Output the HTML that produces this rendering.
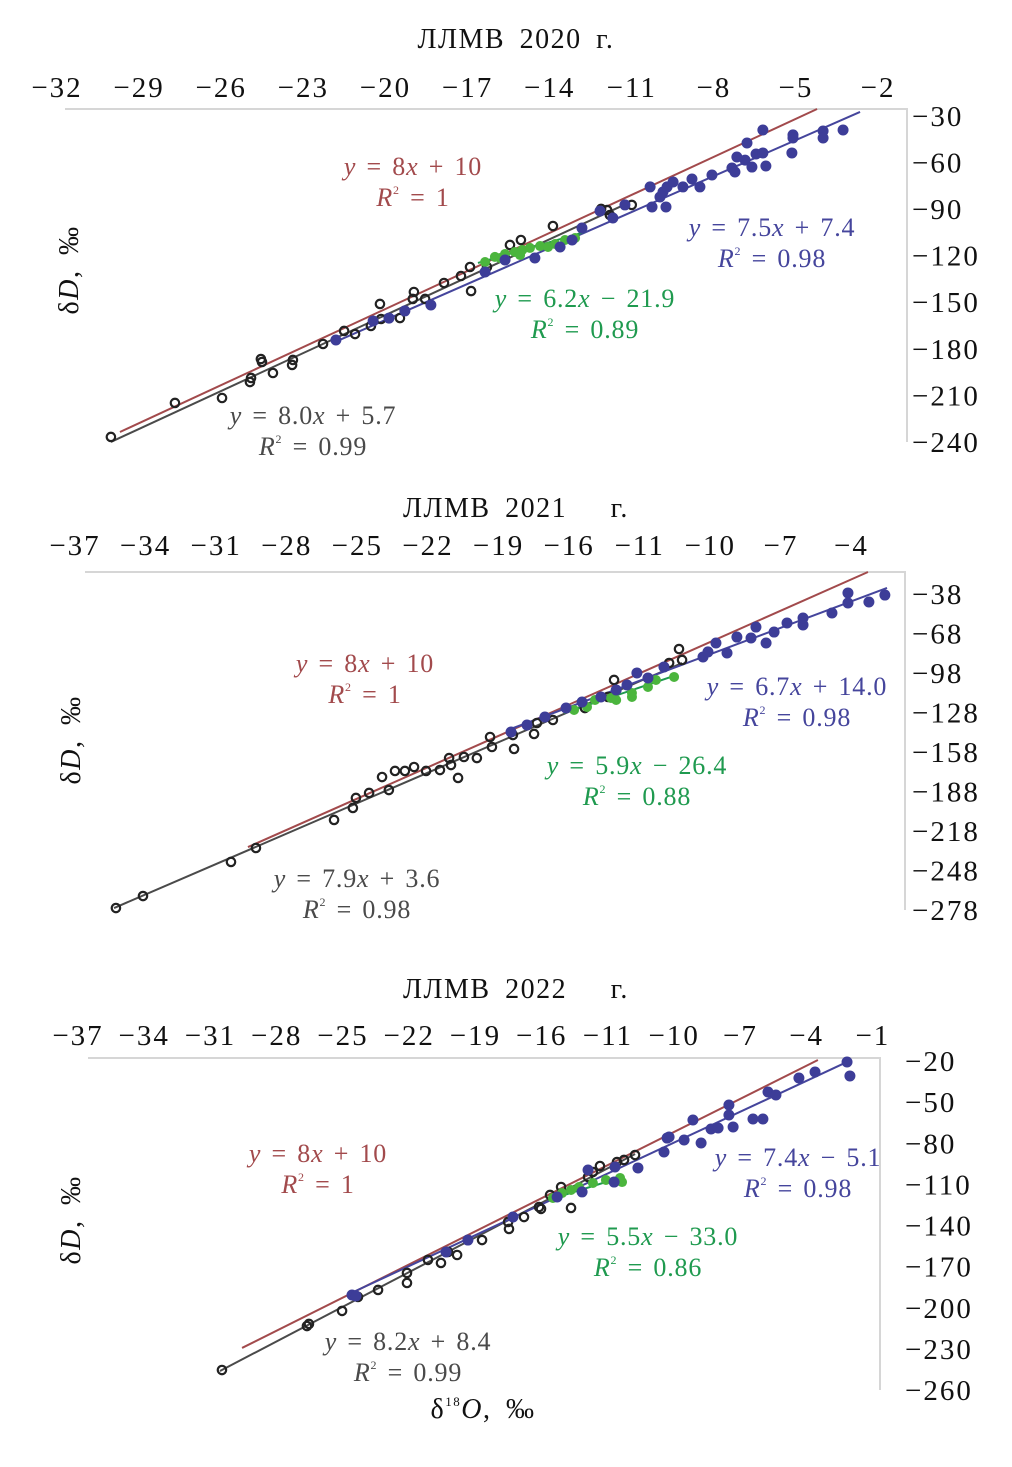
<!DOCTYPE html>
<html><head><meta charset="utf-8"><style>
html,body{margin:0;padding:0;background:#fff;}
svg{display:block;font-family:"Liberation Serif",serif;}
.tick{font-size:29px;fill:#111;letter-spacing:2px;}
.ttl{font-size:28px;fill:#111;letter-spacing:1.5px;word-spacing:6px;}
.ann{font-size:26px;letter-spacing:0.8px;word-spacing:3px;}
</style></head><body>
<svg id="chart" width="1012" height="1467" viewBox="0 0 1012 1467"></svg>
<script>
// ===== Panel 1 (2020) data =====
const p1XTicks=[-32,-29,-26,-23,-20,-17,-14,-11,-8,-5,-2];
const p1XLabels=["−32","−29","−26","−23","−20","−17","−14","−11","−8","−5","−2"];
const p1YTicks=[-30,-60,-90,-120,-150,-180,-210,-240];
const p1BlackX=[-30.03,-27.69,-25.97,-24.95,-24.91,-24.51,-24.55,-24.11,-23.41,-23.38,-22.28,-21.51,-21.11,-20.53,-20.2,-20.16,-19.47,-19.0,-18.96,-18.55,-17.86,-17.24,-16.91,-16.87,-16.29,-15.63,-15.45,-15.05,-13.88,-12.12,-11.9,-11.8,-11.0];
const p1BlackY=[-236.8,-214.9,-211.7,-201.4,-198.8,-188.5,-186.6,-195.6,-190.4,-187.2,-176.9,-168.5,-170.5,-165.3,-151.1,-160.8,-160.2,-147.9,-143.4,-147.9,-137.6,-133.1,-127.3,-142.8,-127.3,-121.5,-113.1,-109.9,-100.9,-89.9,-90.6,-93.8,-87.3];
const p1BlueX=[-21.81,-20.45,-19.87,-19.29,-18.34,-16.36,-15.63,-14.54,-13.62,-13.18,-12.82,-12.16,-11.69,-11.25,-10.33,-10.26,-9.97,-9.86,-9.75,-9.71,-9.49,-9.13,-8.8,-8.51,-8.07,-7.34,-7.23,-7.16,-6.86,-6.79,-6.61,-6.46,-6.21,-6.21,-6.1,-5.15,-5.11,-5.11,-4.01,-4.01,-3.28];
const p1BlueY=[-174.3,-162.1,-160.2,-155.6,-151.8,-130.5,-122.8,-121.5,-114.4,-109.9,-102.2,-91.2,-95.7,-87.3,-75.7,-88.6,-82.2,-79.0,-88.6,-75.7,-72.5,-75.7,-70.6,-75.7,-68.0,-63.5,-66.1,-56.4,-58.4,-47.4,-62.9,-54.5,-39.0,-53.8,-62.2,-53.8,-42.2,-44.2,-39.7,-44.2,-39.0];
const p1GreenX=[-16.36,-16.0,-15.63,-15.27,-15.0,-14.72,-14.35,-14.06,-13.8,-13.44,-13.07,-15.08,-15.81];
const p1GreenY=[-124.1,-120.8,-118.9,-117.6,-116.3,-115.0,-113.8,-114.4,-112.5,-109.9,-108.6,-119.6,-121.5];
const p1RedLine=[[-29.7,-233.6],[-4.23,-25.5]];
const p1GrayLine=[[-30.03,-240.0],[-11.14,-86.1]];
const p1BlueLine=[[-21.84,-175.6],[-2.66,-27.4]];
const p1GreenLine=[[-16.62,-124.7],[-12.71,-104.7]];

// ===== Panel 2 (2021) data =====
const p2XTicks=[-37,-34,-31,-28,-25,-22,-19,-16,-13,-10,-7,-4];
const p2XLabels=["−37","−34","−31","−28","−25","−22","−19","−16","−11","−10","−7","−4"];
const p2YTicks=[-38,-68,-98,-128,-158,-188,-218,-248,-278];
const p2BlackX=[-35.26,-34.11,-30.37,-29.31,-25.99,-25.19,-25.06,-24.5,-23.66,-23.95,-23.4,-22.98,-22.59,-22.08,-21.49,-21.02,-21.1,-20.72,-20.47,-19.92,-19.28,-19.36,-18.34,-18.39,-17.49,-17.37,-16.69,-14.09,-11.75,-11.33,-11.2,-14.35,-15.33];
const p2BlackY=[-276.5,-267.4,-241.5,-230.9,-209.6,-200.5,-192.9,-189.1,-186.9,-177.0,-172.4,-172.4,-169.4,-172.4,-171.7,-167.9,-162.6,-177.7,-161.8,-162.6,-154.2,-146.6,-155.7,-145.1,-144.3,-136.0,-133.7,-103.3,-90.4,-79.8,-88.1,-116.2,-124.6];
const p2BlueX=[-18.47,-17.79,-17.03,-16.13,-15.45,-14.65,-14.0,-13.54,-13.12,-12.65,-11.97,-10.31,-10.1,-9.76,-9.29,-8.87,-8.27,-8.06,-7.63,-7.29,-6.74,-6.06,-6.06,-4.83,-4.15,-4.15,-3.26,-2.58];
const p2BlueY=[-142.8,-137.5,-131.4,-124.6,-120.0,-116.2,-110.9,-107.1,-98.0,-101.8,-93.4,-85.8,-82.0,-75.2,-82.8,-70.7,-71.4,-63.1,-75.2,-66.9,-60.0,-61.5,-56.2,-52.4,-37.2,-44.8,-44.1,-38.8];
const p2GreenX=[-15.79,-15.24,-14.9,-14.22,-13.33,-12.65,-12.31,-11.54,-13.33,-14.0];
const p2GreenY=[-126.1,-123.8,-118.5,-117.0,-113.2,-108.6,-103.3,-101.0,-116.2,-118.5];
const p2RedLine=[[-29.65,-230.2],[-3.3,-21.3]];
const p2GrayLine=[[-35.34,-276.5],[-11.2,-90.4]];
const p2BlueLine=[[-18.6,-141.3],[-2.49,-33.4]];
const p2GreenLine=[[-16.22,-128.4],[-11.42,-99.5]];

// ===== Panel 3 (2022) data =====
const p3XTicks=[-37,-34,-31,-28,-25,-22,-19,-16,-13,-10,-7,-4,-1];
const p3XLabels=["−37","−34","−31","−28","−25","−22","−19","−16","−11","−10","−7","−4","−1"];
const p3YTicks=[-20,-50,-80,-110,-140,-170,-200,-230,-260];
const p3BlackX=[-30.48,-26.54,-26.63,-25.04,-24.32,-23.41,-22.1,-22.1,-21.15,-20.56,-20.24,-19.83,-18.7,-17.52,-17.48,-16.8,-16.12,-16.03,-15.62,-15.12,-14.67,-13.9,-13.68,-13.36,-12.59,-12.27,-11.77];
const p3BlackY=[-245.4,-211.8,-213.3,-202.3,-192.1,-187.0,-174.6,-181.9,-165.1,-167.3,-159.3,-161.5,-150.6,-137.4,-142.5,-133.8,-126.5,-127.9,-117.7,-111.9,-127.2,-104.6,-101.0,-96.6,-93.7,-92.2,-88.6];
const p3BlueX=[-24.59,-24.41,-19.34,-20.33,-17.3,-15.3,-14.17,-13.9,-12.72,-12.68,-11.64,-10.46,-10.32,-10.23,-9.55,-9.15,-8.78,-8.33,-8.01,-7.52,-7.52,-7.33,-6.43,-5.98,-5.75,-5.39,-4.35,-3.62,-2.17,-2.04];
const p3BlueY=[-190.7,-191.4,-150.6,-159.3,-133.8,-119.2,-115.5,-99.5,-108.3,-97.3,-98.0,-86.4,-76.2,-75.4,-77.6,-63.0,-79.8,-69.6,-68.9,-59.4,-52.1,-68.1,-62.3,-62.3,-42.6,-44.8,-32.4,-28.0,-20.7,-30.9];
const p3GreenX=[-15.49,-15.08,-14.67,-14.31,-13.68,-13.09,-12.45,-12.36];
const p3GreenY=[-119.9,-116.3,-114.1,-111.9,-109.0,-106.8,-105.3,-108.3];
const p3RedLine=[[-29.57,-229.3],[-3.49,-19.3]];
const p3GrayLine=[[-30.57,-246.1],[-11.77,-87.8]];
const p3BlueLine=[[-24.82,-190.7],[-2.17,-20.7]];
const p3GreenLine=[[-15.71,-121.4],[-12.36,-104.6]];

const NS="http://www.w3.org/2000/svg";
const svg=document.getElementById('chart');
function mk(tag,attrs,parent){const e=document.createElementNS(NS,tag);for(const k in attrs)e.setAttribute(k,attrs[k]);(parent||svg).appendChild(e);return e;}
function txt(x,y,html,cls,fill,anchor,parent){const t=mk('text',{x:x,y:y,'class':cls,fill:fill,'text-anchor':anchor||'middle'},parent);t.innerHTML=html;return t;}

const RED="#a24a4c",BLUE="#45459c",GREEN="#1f9a4f",GRAY="#4a4a4a";
const panels=[
 {id:'2020',title:'ЛЛМВ 2020 г.',titleY:48,xT:p1XTicks,xL:p1XLabels,yT:p1YTicks,x0:-32,px0:57,pxPerX:27.37,y0:-30,py0:116,pxPerY:1.552,tickY:97,frameTop:109,frameL:65,frameR:907,frameB:442,yLabX:912,axTitle:[78,270],
  bx:p1BlackX,by:p1BlackY,ux:p1BlueX,uy:p1BlueY,gx:p1GreenX,gy:p1GreenY,lines:[p1GrayLine,p1RedLine,p1BlueLine,p1GreenLine],
  ann:[[413,175,'<tspan font-style="italic">y</tspan> = 8<tspan font-style="italic">x</tspan> + 10','R² = 1',RED],[772,236,'<tspan font-style="italic">y</tspan> = 7.5<tspan font-style="italic">x</tspan> + 7.4','R² = 0.98',BLUE],[585,307,'<tspan font-style="italic">y</tspan> = 6.2<tspan font-style="italic">x</tspan> − 21.9','R² = 0.89',GREEN],[313,424,'<tspan font-style="italic">y</tspan> = 8.0<tspan font-style="italic">x</tspan> + 5.7','R² = 0.99',GRAY]]},
 {id:'2021',title:'ЛЛМВ 2021 &#160; г.',titleY:517,xT:p2XTicks,xL:p2XLabels,yT:p2YTicks,x0:-37,px0:75,pxPerX:23.53,y0:-38,py0:594,pxPerY:1.3167,tickY:555,frameTop:572,frameL:85,frameR:905,frameB:910,yLabX:912,axTitle:[80,740],
  bx:p2BlackX,by:p2BlackY,ux:p2BlueX,uy:p2BlueY,gx:p2GreenX,gy:p2GreenY,lines:[p2GrayLine,p2RedLine,p2BlueLine,p2GreenLine],
  ann:[[365,672,'<tspan font-style="italic">y</tspan> = 8<tspan font-style="italic">x</tspan> + 10','R² = 1',RED],[797,695,'<tspan font-style="italic">y</tspan> = 6.7<tspan font-style="italic">x</tspan> + 14.0','R² = 0.98',BLUE],[637,774,'<tspan font-style="italic">y</tspan> = 5.9<tspan font-style="italic">x</tspan> − 26.4','R² = 0.88',GREEN],[357,887,'<tspan font-style="italic">y</tspan> = 7.9<tspan font-style="italic">x</tspan> + 3.6','R² = 0.98',GRAY]]},
 {id:'2022',title:'ЛЛМВ 2022 &#160; г.',titleY:998,xT:p3XTicks,xL:p3XLabels,yT:p3YTicks,x0:-37,px0:78,pxPerX:22.08,y0:-20,py0:1061,pxPerY:1.371,tickY:1045,frameTop:1058,frameL:88,frameR:880,frameB:1390,yLabX:905,axTitle:[80,1220],yDash:true,
  bx:p3BlackX,by:p3BlackY,ux:p3BlueX,uy:p3BlueY,gx:p3GreenX,gy:p3GreenY,lines:[p3GrayLine,p3RedLine,p3BlueLine,p3GreenLine],
  ann:[[318,1162,'<tspan font-style="italic">y</tspan> = 8<tspan font-style="italic">x</tspan> + 10','R² = 1',RED],[798,1166,'<tspan font-style="italic">y</tspan> = 7.4<tspan font-style="italic">x</tspan> − 5.1','R² = 0.98',BLUE],[648,1245,'<tspan font-style="italic">y</tspan> = 5.5<tspan font-style="italic">x</tspan> − 33.0','R² = 0.86',GREEN],[408,1350,'<tspan font-style="italic">y</tspan> = 8.2<tspan font-style="italic">x</tspan> + 8.4','R² = 0.99',GRAY]]}
];
const lineColors=[GRAY,RED,BLUE,GREEN];
const lineNames=['lmwl-local-line','gmwl-line','blue-series-trendline','green-series-trendline'];

panels.forEach(p=>{
  const g=mk('g',{});
  
  
  const sx=v=>p.px0+(v-p.x0)*p.pxPerX;
  const sy=v=>p.py0+(p.y0-v)*p.pxPerY;
  const t=txt(516,p.titleY,p.title,'ttl','#111','middle',g);
  
  
  const fr=mk('path',{d:`M${p.frameL} ${p.frameTop}H${p.frameR}V${p.frameB}`,fill:'none',stroke:'#d6d6d6','stroke-width':2},g);
  
  
  p.xT.forEach((v,i)=>{
    const l=txt(sx(v),p.tickY,p.xL[i],'tick','#111','middle',g);
    
    
  });
  p.yT.forEach(v=>{
    const l=txt(p.yLabX,sy(v)+10,'−'+Math.abs(v),'tick','#111','start',g);
    
    
  });
  const at=txt(0,0,'δ<tspan font-style="italic">D</tspan>, ‰','ttl','#666','middle',g);
  at.setAttribute('transform',`translate(${p.axTitle[0]},${p.axTitle[1]}) rotate(-90)`);
  at.setAttribute('font-size','24');
  
  
  p.lines.forEach((ln,i)=>{
    const e=mk('line',{x1:sx(ln[0][0]),y1:sy(ln[0][1]),x2:sx(ln[1][0]),y2:sy(ln[1][1]),stroke:lineColors[i],'stroke-width':2},g);
    
    
  });
  p.bx.forEach((v,i)=>{
    const c=mk('circle',{cx:sx(v),cy:sy(p.by[i]),r:4.2,fill:'none',stroke:'#222','stroke-width':2.2},g);
    
    
  });
  p.gx.forEach((v,i)=>{
    const c=mk('circle',{cx:sx(v),cy:sy(p.gy[i]),r:5,fill:'#4bb53d'},g);
    
    
  });
  p.ux.forEach((v,i)=>{
    const c=mk('circle',{cx:sx(v),cy:sy(p.uy[i]),r:5.5,fill:'#3d3d98'},g);
    
    
  });
  p.ann.forEach(a=>{
    const e1=txt(a[0],a[1],a[2],'ann',a[4],'middle',g);
    
    
    const e2=txt(a[0],a[1]+31,'<tspan font-style="italic">R</tspan><tspan font-size="12" dy="-12">2</tspan><tspan dy="12"> = '+a[3].split('= ')[1]+'</tspan>','ann',a[4],'middle',g);
    
    
  });
});
const xt=txt(483,1418,'δ<tspan font-size="13" dy="-12">18</tspan><tspan dy="12" font-style="italic">O</tspan>, ‰','ttl','#555','middle');
xt.setAttribute('font-size','24');


</script>
</body></html>
